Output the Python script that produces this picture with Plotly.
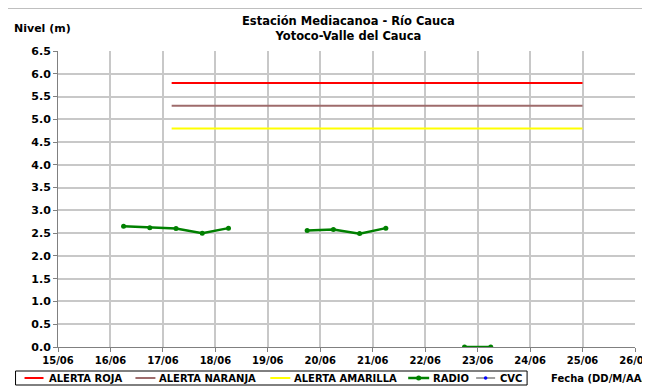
import plotly.graph_objects as go

# alert thresholds (m) and the period they cover
alert_dates = ["2011-06-17 04:00", "2011-06-25 00:00"]
alerta_roja = [5.8, 5.8]
alerta_naranja = [5.3, 5.3]
alerta_amarilla = [4.8, 4.8]

# radio readings every 12 h (None = no data)
radio_dates = ["2011-06-16 06:00", "2011-06-16 18:00", "2011-06-17 06:00", "2011-06-17 18:00",
               "2011-06-18 06:00", "2011-06-18 18:00", "2011-06-19 06:00", "2011-06-19 18:00",
               "2011-06-20 06:00", "2011-06-20 18:00", "2011-06-21 06:00", "2011-06-21 18:00",
               "2011-06-22 06:00", "2011-06-22 18:00", "2011-06-23 06:00"]
radio_values = [2.65, 2.62, 2.60, 2.50, 2.61, None, None, 2.56, 2.58, 2.49, 2.61, None,
                None, 0.0, 0.0]

# CVC station: no readings in the period
cvc_dates = []
cvc_values = []

series_names = ["ALERTA ROJA", "ALERTA NARANJA", "ALERTA AMARILLA", "RADIO", "CVC"]
series_colors = ["#FF0000", "#9E6B6B", "#FFFF00", "#008000", "#A0A0A0"]

fam = "DejaVu Sans, Verdana, sans-serif"
W, H = 650, 387
L, R, T, B = 49.5, 23, 43, 48
PW, PH = W - L - R, H - T - B


def px(x):
    # figure pixel -> paper x
    return (x - L) / PW


def py(y):
    # figure pixel (from top) -> paper y
    return (H - B - y) / PH


fig = go.Figure()
for name, color, vals in zip(series_names[:3], series_colors[:3],
                             [alerta_roja, alerta_naranja, alerta_amarilla]):
    fig.add_trace(go.Scatter(x=alert_dates, y=vals, mode="lines", name=name,
                             line=dict(color=color, width=2)))
fig.add_trace(go.Scatter(x=radio_dates, y=radio_values, mode="lines+markers", name="RADIO",
                         line=dict(color="#008000", width=2.5), marker=dict(size=5, color="#008000"),
                         connectgaps=False))
fig.add_trace(go.Scatter(x=cvc_dates, y=cvc_values, mode="lines+markers", name="CVC",
                         line=dict(color="#A0A0A0", width=2), marker=dict(size=4, color="#0000FF")))

fig.update_layout(
    width=W, height=H,
    margin=dict(l=L, r=R, t=T, b=B, autoexpand=False),
    paper_bgcolor="white", plot_bgcolor="white",
    font=dict(family=fam, size=10, color="black"),
    showlegend=False,
    xaxis=dict(type="date", range=["2011-06-15", "2011-06-26"], dtick=86400000,
               tickformat="%d/%m", showgrid=True, gridcolor="#C8C8C8", gridwidth=1.5,
               showline=True, linecolor="#808080", linewidth=1, ticks="outside",
               ticklen=4, tickcolor="#808080",
               tickfont=dict(family=fam, size=10, color="black", weight="bold"),
               zeroline=False, fixedrange=True),
    yaxis=dict(range=[0, 6.5], dtick=0.5, tickformat=".1f", showgrid=True,
               gridcolor="#C8C8C8", gridwidth=1.5, showline=True, linecolor="#808080",
               linewidth=1, ticks="outside", ticklen=4, tickcolor="#808080",
               tickfont=dict(family=fam, size=11, color="black", weight="bold"),
               zeroline=False, fixedrange=True),
)

# chart titles and axis captions
fig.add_annotation(text="<b>Estación Mediacanoa - Río Cauca<br>Yotoco-Valle del Cauca</b>",
                   xref="paper", yref="paper", x=px(340), y=py(4), xanchor="center", yanchor="top",
                   showarrow=False, font=dict(family=fam, size=11.5), align="center")
fig.add_annotation(text="<b>Nivel (m)</b>", xref="paper", yref="paper", x=px(3), y=py(21),
                   xanchor="left", yanchor="middle", showarrow=False,
                   font=dict(family=fam, size=11))
fig.add_annotation(text="<b>Fecha (DD/M/AAAA)</b>", xref="paper", yref="paper", x=px(541), y=py(370),
                   xanchor="left", yanchor="middle", showarrow=False,
                   font=dict(family=fam, size=10))

# outer frame (left and top edges visible)
fig.add_shape(type="line", xref="paper", yref="paper", x0=px(-3), x1=px(-3), y0=py(-1), y1=py(400),
              line=dict(color="black", width=2.5))
fig.add_shape(type="line", xref="paper", yref="paper", x0=px(-3), x1=px(700), y0=py(-1), y1=py(-1),
              line=dict(color="black", width=2.5))

# legend box drawn by hand to follow the original's compact layout
fig.add_shape(type="rect", xref="paper", yref="paper", x0=px(7), x1=px(519), y0=py(363), y1=py(377),
              line=dict(color="black", width=1), fillcolor="white")
leg_x = [(16, 35, 38), (127, 147, 149), (262, 282, 284), (400, 421, 423), (468, 487, 490)]
ly = 370
for (x0, x1, xt), name, color in zip(leg_x, series_names, series_colors):
    w = 2.5 if name == "RADIO" else 2
    fig.add_shape(type="line", xref="paper", yref="paper", x0=px(x0), x1=px(x1),
                  y0=py(ly), y1=py(ly), line=dict(color=color, width=w))
    fig.add_annotation(text="<b>" + name + "</b>", xref="paper", yref="paper", x=px(xt), y=py(ly),
                       xanchor="left", yanchor="middle", showarrow=False,
                       font=dict(family=fam, size=10))
# legend markers for RADIO and CVC
for cx, r, color in [(410.5, 2.5, "#008000"), (477.5, 1.8, "#0000FF")]:
    fig.add_shape(type="circle", xref="paper", yref="paper", x0=px(cx - r), x1=px(cx + r),
                  y0=py(ly - r), y1=py(ly + r), line=dict(color=color, width=0), fillcolor=color)

fig.write_html("out.html")
